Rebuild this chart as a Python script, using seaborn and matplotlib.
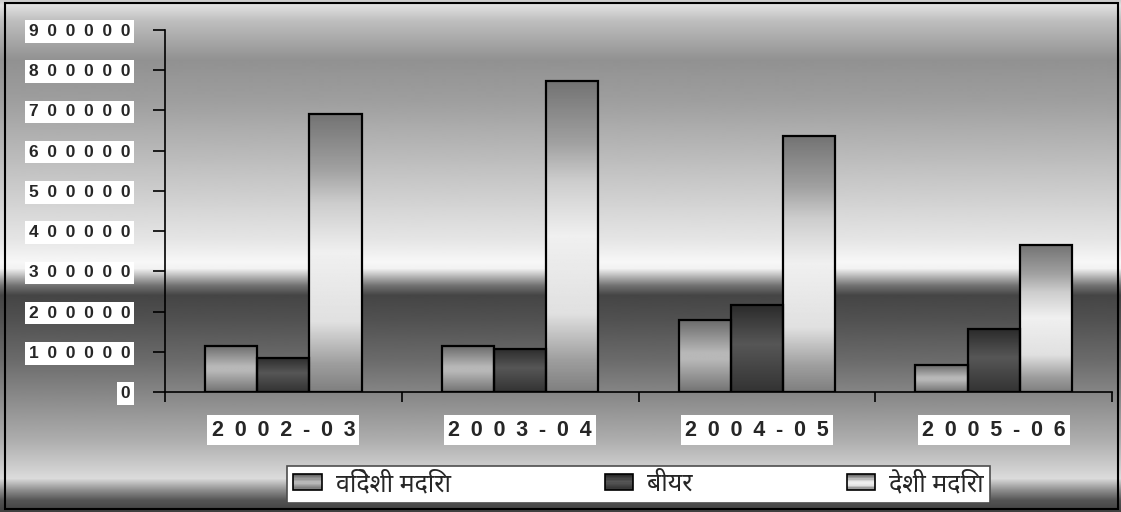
import numpy as np
import pandas as pd
import seaborn as sns
import matplotlib
matplotlib.use("Agg")
import matplotlib.pyplot as plt
from matplotlib import font_manager
from matplotlib.patches import Rectangle
from matplotlib.legend_handler import HandlerBase
from matplotlib.ticker import FixedLocator, FuncFormatter, NullFormatter

years = ["2002-03", "2003-04", "2004-05", "2005-06"]
series = ["विदेशी मदिरा", "बीयर", "देशी मदिरा"]
foreign = [115000, 114000, 179000, 67000]
beer = [85000, 107000, 216000, 156000]
desi = [692000, 774000, 637000, 366000]
yticks = list(range(0, 900001, 100000))

df = pd.DataFrame({
    "year": years * 3,
    "type": [series[0]] * 4 + [series[1]] * 4 + [series[2]] * 4,
    "value": foreign + beer + desi,
})

# grey ramps (position from top of bar, grey level)
ramps = [
    ([0, 0.45, 0.55, 1], [0.42, 0.72, 0.72, 0.45]),
    ([0, 0.45, 1], [0.17, 0.34, 0.20]),
    ([0, 0.2, 0.32, 0.5, 0.75, 0.9, 1], [0.45, 0.63, 0.8, 0.94, 0.88, 0.62, 0.5]),
]
bg_stops = ([0, 5, 20, 60, 100, 150, 200, 240, 262, 268, 285, 295, 320, 360, 400, 440, 470, 478, 490, 500, 512],
            [0.80, 0.88, 0.75, 0.57, 0.62, 0.72, 0.82, 0.9, 0.97, 0.95, 0.45, 0.27, 0.32, 0.42, 0.55, 0.68, 0.82, 0.86, 0.55, 0.33, 0.25])


def ramp(i, n=200):
    t = np.linspace(0, 1, n)
    return np.interp(t, *ramps[i])


names = {f.name for f in font_manager.fontManager.ttflist}
deva = [f for f in ["Noto Sans Devanagari", "Poppins", "Mukta"] if f in names][:1] + ["DejaVu Sans"]
latin = ["Liberation Sans", "DejaVu Sans"]

sns.set_theme(style="white")
plt.rcParams["font.family"] = latin

W, H = 1121, 512
fig = plt.figure(figsize=(W / 100, H / 100), dpi=100)

# background gradient
bg = fig.add_axes([0, 0, 1, 1], zorder=-10)
rows = np.interp(np.arange(H), *bg_stops).reshape(-1, 1)
bg.imshow(rows, cmap="gray", vmin=0, vmax=1, aspect="auto", interpolation="bilinear")
bg.axis("off")
fig.patches.append(Rectangle((5 / W, 3 / H), 1113 / W, 506 / H, transform=fig.transFigure,
                             fill=False, edgecolor="black", linewidth=1.5, zorder=5))

ax = fig.add_axes([165 / W, 1 - 392 / H, (1112 - 165) / W, (392 - 30) / H])
ax.set_facecolor("none")

sns.barplot(data=df, x="year", y="value", hue="type", hue_order=series, width=0.66, gap=0,
            palette=["0.6", "0.3", "0.85"], edgecolor="black", linewidth=1.6, legend=False, ax=ax)

for i, cont in enumerate(ax.containers):
    g = ramp(i).reshape(-1, 1)
    for p in cont.patches:
        x0, w, h = p.get_x(), p.get_width(), p.get_height()
        im = ax.imshow(g, cmap="gray", vmin=0, vmax=1, extent=(x0, x0 + w, 0, h), origin="upper",
                       aspect="auto", interpolation="bilinear", zorder=2)
        im.set_clip_path(p)
        p.set_facecolor("none")
        p.set_zorder(3)

ax.set_xlim(-0.5, 3.5)
ax.set_ylim(0, 900000)
ax.set_xlabel("")
ax.set_ylabel("")

for s in ["top", "right"]:
    ax.spines[s].set_visible(False)
for s in ["left", "bottom"]:
    ax.spines[s].set_color("black")
    ax.spines[s].set_linewidth(1.2)

ax.yaxis.set_major_locator(FixedLocator(yticks))
ax.yaxis.set_major_formatter(FuncFormatter(lambda v, pos: "\u2002".join(str(int(v)))))
ax.tick_params(axis="y", direction="out", length=9, width=1.2, color="black", pad=16,
               labelsize=12.5, left=True)
for lab in ax.get_yticklabels():
    lab.set_fontweight("bold")
    lab.set_bbox(dict(boxstyle="square,pad=0.22", facecolor="white", edgecolor="none"))

ax.xaxis.set_major_locator(FixedLocator(np.arange(-0.5, 4, 1)))
ax.xaxis.set_major_formatter(NullFormatter())
ax.xaxis.set_minor_locator(FixedLocator(range(len(years))))
ax.xaxis.set_minor_formatter(FuncFormatter(lambda v, pos: "\u2002".join(years[int(round(v))])))
ax.tick_params(axis="x", which="major", direction="out", length=7, width=1.2, color="black", bottom=True)
ax.tick_params(axis="x", which="minor", length=0, pad=20, labelsize=15.5, bottom=True)
for lab in ax.xaxis.get_minorticklabels():
    lab.set_fontweight("bold")
    lab.set_bbox(dict(boxstyle="square,pad=0.2", facecolor="white", edgecolor="none"))


class GradientHandle(HandlerBase):
    def __init__(self, idx):
        super().__init__()
        self.idx = idx

    def create_artists(self, legend, orig, xd, yd, width, height, fontsize, trans):
        g = ramp(self.idx, 12)
        arts = []
        for k, c in enumerate(g):
            arts.append(Rectangle((-xd, -yd + height * (1 - (k + 1) / len(g))), width, height / len(g),
                                  facecolor=str(c), edgecolor="none", transform=trans))
        arts.append(Rectangle((-xd, -yd), width, height, fill=False, edgecolor="black",
                              linewidth=1.2, transform=trans))
        return arts


handles = [Rectangle((0, 0), 1, 1) for _ in series]
leg = fig.legend(handles, series, loc="center", mode="expand",
                 bbox_to_anchor=(287 / W, 1 - 506 / H, 703 / W, 43 / H), ncol=3,
                 handler_map={h: GradientHandle(i) for i, h in enumerate(handles)},
                 prop={"family": deva, "size": 18}, frameon=True, fancybox=False, shadow=False,
                 handlelength=1.15, handleheight=0.6, handletextpad=0.55, columnspacing=1.0,
                 borderpad=0.25, borderaxespad=0)
leg.get_frame().set_facecolor("white")
leg.get_frame().set_edgecolor("0.3")
leg.get_frame().set_linewidth(1.2)
leg.get_frame().set_alpha(1)

fig.savefig("out.png", dpi=100)
